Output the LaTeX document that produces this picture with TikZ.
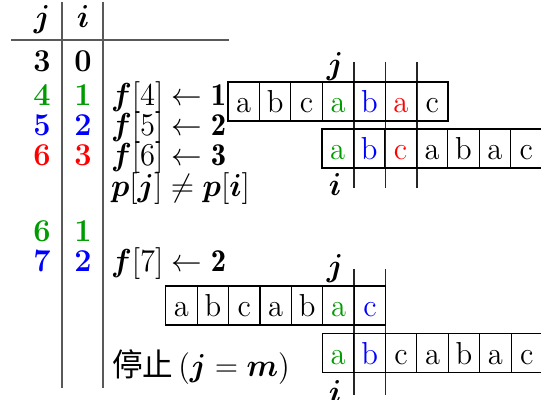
\documentclass[tikz,border=0pt]{standalone}
\usepackage{amsmath}
\usepackage{graphicx}
\usepackage{fontspec}
\newfontfamily\cjk{Noto Sans CJK SC}
\definecolor{mygreen}{RGB}{0,155,0}
\definecolor{myblue}{RGB}{0,0,255}
\definecolor{myred}{RGB}{255,0,0}
\newcommand{\stt}[1]{\scalebox{1.02}[1.06]{#1}}
\begin{document}
\begin{tikzpicture}[x=0.4pt,y=-0.4pt,
  every node/.style={font=\large, inner sep=0pt, outer sep=0pt},
  cell/.style={draw=black, line width=0.45pt, minimum width=12.57pt, minimum height=15.6pt, text height=8.8pt, text depth=0pt},
  tline/.style={draw=black!65, line width=0.45pt},
  mline/.style={draw=black!85, line width=0.45pt},
  num/.style={anchor=base, font=\large\bfseries},
  txt/.style={anchor=base west}]
\useasboundingbox (0,0) rectangle (541,400);
% table frame
\draw[tline] (62,2) -- (62,388);
\draw[tline] (103,2) -- (103,388);
\draw[tline] (11,40) -- (229,40);
% header
\node[anchor=base] (hj) at (42,27) {\stt{$\boldsymbol{j}$}};
\node[anchor=base] (hi) at (83,27) {\stt{$\boldsymbol{i}$}};
% rows
\node[num] (j1) at (42,71) {\stt{3}};
\node[num] (i1) at (83,71) {\stt{0}};
\node[num,text=mygreen] (j2) at (42,105) {\stt{4}};
\node[num,text=mygreen] (i2) at (83,105) {\stt{1}};
\node[num,text=myblue] (j3) at (42,135) {\stt{5}};
\node[num,text=myblue] (i3) at (83,135) {\stt{2}};
\node[num,text=myred] (j4) at (42,165) {\stt{6}};
\node[num,text=myred] (i4) at (83,165) {\stt{3}};
\node[num,text=mygreen] (j5) at (42,241) {\stt{6}};
\node[num,text=mygreen] (i5) at (83,241) {\stt{1}};
\node[num,text=myblue] (j6) at (42,271) {\stt{7}};
\node[num,text=myblue] (i6) at (83,271) {\stt{2}};
% right column text
\node[txt] (t1) at (111,105) {\stt{$\boldsymbol{f}[4]\leftarrow\mathbf{1}$}};
\node[txt] (t2) at (111,135) {\stt{$\boldsymbol{f}[5]\leftarrow\mathbf{2}$}};
\node[txt] (t3) at (111,165) {\stt{$\boldsymbol{f}[6]\leftarrow\mathbf{3}$}};
\node[txt] (t4) at (111,196) {\stt{$\boldsymbol{p}[\boldsymbol{j}]\neq\boldsymbol{p}[\boldsymbol{i}]$}};
\node[txt] (t5) at (111,271) {\stt{$\boldsymbol{f}[7]\leftarrow\mathbf{2}$}};
\node[txt] (t6) at (112,376) {\stt{{\cjk 停止}$\,(\boldsymbol{j}=\boldsymbol{m})$}};
% first comparison
\draw[mline] (354,62) -- (354,188);
\draw[mline] (385.5,62) -- (385.5,188);
\draw[mline] (417,62) -- (417,188);
\foreach \ch/\col [count=\k] in {a/black,b/black,c/black,a/mygreen,b/myblue,a/myred,c/black}
  \node[cell,text=\col] (ua-\k) at ({228+31.43*(\k-0.5)},101.5) {\stt{\ch}};
\foreach \ch/\col [count=\k] in {a/mygreen,b/myblue,c/myred,a/black,b/black,a/black,c/black}
  \node[cell,text=\col] (la-\k) at ({322+31.43*(\k-0.5)},148.5) {\stt{\ch}};
\node (ja) at (335,67) {\stt{$\boldsymbol{j}$}};
\node (ia) at (335,184) {\stt{$\boldsymbol{i}$}};
% second comparison
\draw[mline] (354,269) -- (354,395);
\draw[mline] (385.7,269) -- (385.7,395);
\foreach \ch/\col [count=\k] in {a/black,b/black,c/black,a/black,b/black,a/mygreen,c/myblue}
  \node[cell,text=\col] (ub-\k) at ({165.7+31.43*(\k-0.5)},305.5) {\stt{\ch}};
\foreach \ch/\col [count=\k] in {a/mygreen,b/myblue,c/black,a/black,b/black,a/black,c/black}
  \node[cell,text=\col] (lb-\k) at ({322.5+31.43*(\k-0.5)},353) {\stt{\ch}};
\node (jb) at (335,269) {\stt{$\boldsymbol{j}$}};
\node (ib) at (335,391) {\stt{$\boldsymbol{i}$}};
\end{tikzpicture}
\end{document}
